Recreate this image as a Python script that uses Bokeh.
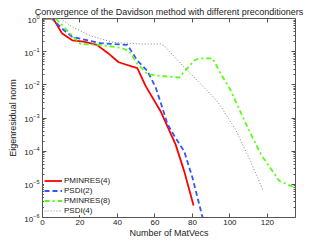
from bokeh.plotting import figure
from bokeh.models import LogAxis, LinearAxis, Legend, LegendItem, FixedTicker, Range1d
from bokeh.embed import file_html
from bokeh.resources import INLINE

x_ticks = [0, 20, 40, 60, 80, 100, 120]
y_ticks = [1e-6, 1e-5, 1e-4, 1e-3, 1e-2, 1e-1, 1]

red_x = [0, 5.7, 10.5, 15.9, 22, 29, 35, 40.6, 50.6, 55, 63, 71, 75.6, 80.6]
red_y = [1, 1, 0.35, 0.22, 0.2, 0.16, 0.09, 0.048, 0.032, 0.0093, 0.0016, 1.6e-4, 2.5e-5, 2.3e-6]

blue_x = [0, 5, 10.5, 15.9, 31, 45.3, 50.6, 56, 60.4, 64, 66.7, 71, 75.6, 80, 85.4]
blue_y = [1, 1, 0.49, 0.28, 0.18, 0.16, 0.054, 0.026, 0.0083, 0.002, 6.5e-4, 2.5e-4, 1e-4, 1.6e-5, 1e-6]

green_x = [0, 7, 15.9, 20.3, 31, 41.7, 46.1, 50.6, 56, 61.3, 72.9, 81, 83.6, 90.7, 95, 100.5, 109.5, 116.6, 126.4, 136]
green_y = [1, 1, 0.3, 0.17, 0.16, 0.13, 0.107, 0.043, 0.021, 0.019, 0.0166, 0.054, 0.063, 0.063, 0.0224, 0.0066, 5.1e-4, 7.9e-5, 1.26e-5, 7.4e-6]

gray_x = [0, 9.6, 15.9, 25.7, 38, 54, 63, 65, 75.6, 89.8, 94, 103, 111, 117.8]
gray_y = [1, 1, 0.55, 0.3, 0.19, 0.17, 0.17, 0.15, 0.034, 0.0052, 0.0028, 4.5e-4, 5e-5, 6.3e-6]

labels = ["PMINRES(4)", "PSDI(2)", "PMINRES(8)", "PSDI(4)"]

FONT = "Liberation Sans"
AX = "#555555"

minor = [k * d for d in y_ticks[:-1] for k in range(2, 10)]

p = figure(width=327, height=246, output_backend="svg", toolbar_location=None,
           y_axis_type="log", x_range=Range1d(0, 135), y_range=Range1d(1e-6, 1),
           title="Convergence of the Davidson method with different preconditioners",
           min_border_left=42, min_border_right=32, min_border_top=18, min_border_bottom=29)
p.title.text_font = FONT
p.title.text_font_size = "9px"
p.title.text_font_style = "normal"
p.title.text_color = "#222222"
p.title.align = "center"
p.title.offset = 0
p.title.standoff = 3

p.xgrid.visible = False
p.ygrid.visible = False
p.outline_line_color = AX
p.background_fill_color = "white"
p.border_fill_color = "white"

p.xaxis.ticker = FixedTicker(ticks=x_ticks)
p.yaxis.ticker = FixedTicker(ticks=y_ticks, minor_ticks=minor)
p.xaxis.axis_label = "Number of MatVecs"
p.yaxis.axis_label = "Eigenresidual norm"
for ax in [p.xaxis[0], p.yaxis[0]]:
    ax.axis_label_text_font = FONT
    ax.axis_label_text_font_size = "9px"
    ax.axis_label_text_font_style = "normal"
    ax.axis_label_text_color = "#222222"
    ax.axis_label_standoff = 0
    ax.major_label_text_font = FONT
    ax.major_label_text_font_size = "8px"
    ax.major_label_text_color = "#222222"
    ax.major_tick_in = 4
    ax.major_tick_out = 0
    ax.minor_tick_in = 2
    ax.minor_tick_out = 0
    ax.axis_line_color = AX
    ax.major_tick_line_color = AX
    ax.minor_tick_line_color = AX
    ax.major_label_standoff = 3
p.xaxis[0].major_label_standoff = 2
p.yaxis[0].axis_label_standoff = 3

r_ax = LogAxis(ticker=FixedTicker(ticks=y_ticks, minor_ticks=minor),
               major_label_text_color=None, major_tick_in=4, major_tick_out=0,
               minor_tick_in=2, minor_tick_out=0, axis_line_color=None,
               major_tick_line_color=AX, minor_tick_line_color=AX)
p.add_layout(r_ax, "right")
t_ax = LinearAxis(ticker=FixedTicker(ticks=x_ticks), major_label_text_color=None,
                  major_label_text_font_size="0px",
                  major_tick_in=4, major_tick_out=0, minor_tick_line_color=None,
                  axis_line_color=None, major_tick_line_color=AX)
p.add_layout(t_ax, "above")

r1 = p.line(red_x, red_y, line_color="#ff0000", line_width=1.8)
r2 = p.line(blue_x, blue_y, line_color="#3355ff", line_width=1.8, line_dash="5 3")
r3 = p.line(green_x, green_y, line_color="#55ff11", line_width=1.8, line_dash="5 3 2 3")
r4 = p.line(gray_x, gray_y, line_color="#808080", line_width=1, line_dash="1 2")

legend = Legend(items=[LegendItem(label=l, renderers=[r]) for l, r in zip(labels, [r1, r2, r3, r4])],
                location="bottom_left")
legend.label_text_font = FONT
legend.label_text_font_size = "8px"
legend.label_text_color = "#222222"
legend.glyph_height = 9
legend.glyph_width = 18
legend.label_height = 9
legend.spacing = 1
legend.padding = 2
legend.margin = 2
legend.label_standoff = 2
legend.border_line_color = None
legend.background_fill_alpha = 1
p.add_layout(legend)

open("out.html", "w").write(file_html(p, INLINE))
